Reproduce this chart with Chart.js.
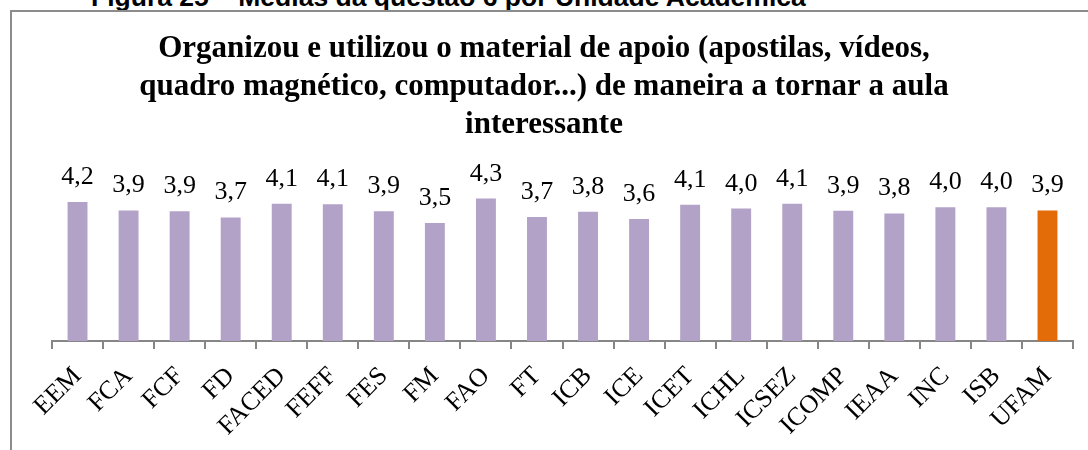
<!DOCTYPE html>
<html>
<head>
<meta charset="utf-8">
<script src="https://cdn.jsdelivr.net/npm/chart.js"></script>
<style>
  html, body { margin: 0; padding: 0; background: #fff; overflow: hidden; }
  #wrap { position: relative; width: 1088px; height: 450px; }
  #caption {
    position: absolute; left: 91px; top: -18px; line-height: 26px;
    font: bold 26.5px "Liberation Sans", Arial, sans-serif; color: #000; white-space: nowrap;
  }
  #frame {
    position: absolute; left: 10px; top: 10px; width: 1200px; height: 600px;
    border-left: 2px solid #8c8c8c; border-top: 2px solid #8c8c8c;
  }
  canvas { position: absolute; left: 0; top: 0; }
</style>
</head>
<body>
<div id="wrap">
  <div id="caption">Figura 25 – Médias da questão 6 por Unidade Acadêmica</div>
  <div id="frame"></div>
  <canvas id="chart" width="1088" height="450"></canvas>
</div>
<script>
// unidades acadêmicas
const unidades = ["EEM", "FCA", "FCF", "FD", "FACED", "FEFF", "FES", "FM", "FAO", "FT",
  "ICB", "ICE", "ICET", "ICHL", "ICSEZ", "ICOMP", "IEAA", "INC", "ISB", "UFAM"];
const medias = [4.20, 3.94, 3.92, 3.73, 4.14, 4.13, 3.92, 3.56, 4.30, 3.74,
  3.90, 3.68, 4.11, 4.00, 4.14, 3.93, 3.85, 4.04, 4.04, 3.94];
// rótulos exibidos acima das barras
const rotulos = ["4,2", "3,9", "3,9", "3,7", "4,1", "4,1", "3,9", "3,5", "4,3", "3,7",
  "3,8", "3,6", "4,1", "4,0", "4,1", "3,9", "3,8", "4,0", "4,0", "3,9"];
const titulo = [
  "Organizou e utilizou o material de apoio (apostilas, vídeos,",
  "quadro magnético, computador...) de maneira a tornar a aula",
  "interessante"
];

const roxo = "#b3a2c7";
const laranja = "#e36c09";
const serif = "'Liberation Serif', 'Times New Roman', serif";

const cores = unidades.map(u => u === "UFAM" ? laranja : roxo);

const rotulosPlugin = {
  id: "rotulos",
  afterDatasetsDraw(chart) {
    const ctx = chart.ctx;
    const meta = chart.getDatasetMeta(0);
    ctx.save();
    ctx.font = "26px " + serif;
    ctx.fillStyle = "#000";
    ctx.textAlign = "center";
    ctx.textBaseline = "alphabetic";
    meta.data.forEach((bar, i) => {
      ctx.fillText(rotulos[i], bar.x, bar.y - 18);
    });
    ctx.restore();
  }
};

new Chart(document.getElementById("chart"), {
  type: "bar",
  data: {
    labels: unidades,
    datasets: [{
      data: medias,
      backgroundColor: cores,
      borderWidth: 0,
      barPercentage: 0.39,
      categoryPercentage: 1
    }]
  },
  options: {
    responsive: false,
    animation: false,
    layout: { padding: { left: 15, right: 15, top: 0, bottom: 0 } },
    plugins: {
      legend: { display: false },
      tooltip: { enabled: false },
      title: {
        display: true,
        text: titulo,
        color: "#000",
        font: { family: serif, size: 31, weight: "bold", lineHeight: 1.23 },
        padding: { top: 30, bottom: 31 }
      }
    },
    scales: {
      y: {
        display: true,
        min: 0,
        max: 5,
        afterFit: (scale) => { scale.width = 37; },
        border: { display: false },
        grid: { display: false },
        ticks: { display: false }
      },
      x: {
        afterFit: (scale) => { scale.height = 109; },
        border: { display: true, color: "#868686", width: 2 },
        grid: {
          display: true,
          offset: true,
          drawOnChartArea: false,
          drawTicks: true,
          tickLength: 8,
          color: "#868686",
          lineWidth: 2
        },
        ticks: {
          color: "#000",
          font: { family: serif, size: 26 },
          minRotation: 45,
          maxRotation: 45,
          padding: 12
        }
      }
    }
  },
  plugins: [rotulosPlugin]
});
</script>
</body>
</html>
